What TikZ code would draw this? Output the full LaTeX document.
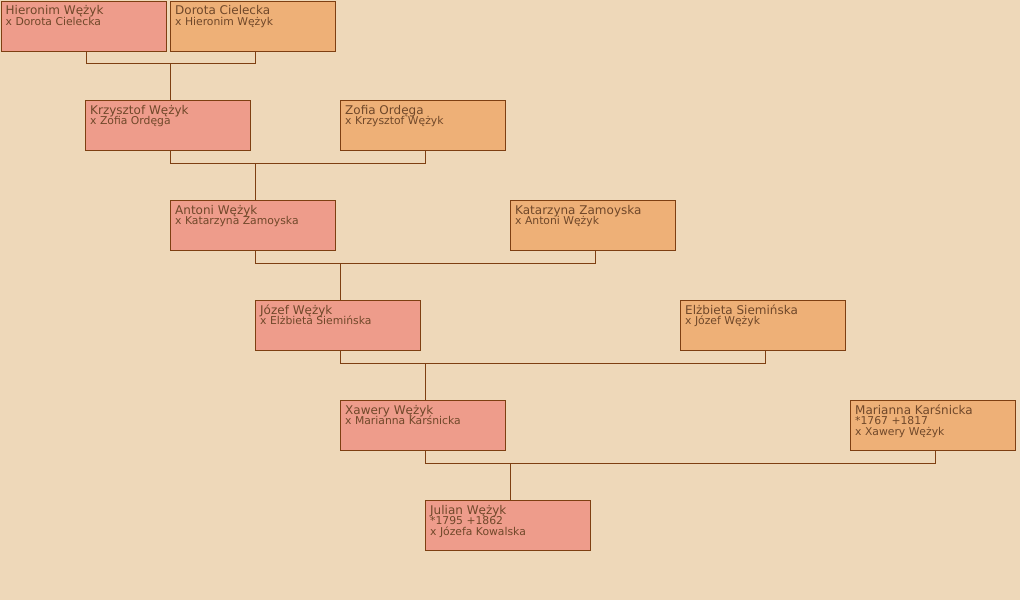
\documentclass[tikz,border=0pt]{standalone}
\usepackage{fontspec}
\setmainfont{DejaVu Sans}
\definecolor{bg}{HTML}{EED8B9}
\definecolor{male}{HTML}{EE9C8B}
\definecolor{female}{HTML}{EEB077}
\definecolor{edge}{HTML}{7E3F12}
\definecolor{txt}{HTML}{70482A}
\newcommand\person[7]{%
  \node[#2] (#1) at (#3,#4) {};
  \node[nm] (#1a) at (#3+5,#4+14) {#5};
  \node[sb] (#1b) at (#3+5,#4+24.5) {#6};
}
\begin{document}
\begin{tikzpicture}[x=1pt,y=-1pt,
  box/.style={draw=edge,line width=1pt,minimum width=165pt,minimum height=50pt,inner sep=0pt,anchor=north west},
  m/.style={box,fill=male},
  f/.style={box,fill=female},
  nm/.style={anchor=base west,inner sep=0pt,text=txt,font=\fontsize{12}{12}\selectfont},
  sb/.style={anchor=base west,inner sep=0pt,text=txt,font=\fontsize{10.8}{11}\selectfont},
  conn/.style={draw=edge,line width=1pt}]
\fill[bg] (0,0) rectangle (1020,600);
\useasboundingbox (0,0) rectangle (1020,600);
\person{h}{m}{0.5}{0.5}{Hieronim Wężyk}{x Dorota Cielecka}{}
\person{d}{f}{170}{0.5}{Dorota Cielecka}{x Hieronim Wężyk}{}
\person{k}{m}{85}{100}{Krzysztof Wężyk}{x Zofia Ordęga}{}
\person{z}{f}{340}{100}{Zofia Ordęga}{x Krzysztof Wężyk}{}
\person{a}{m}{170}{200}{Antoni Wężyk}{x Katarzyna Zamoyska}{}
\person{kz}{f}{510}{200}{Katarzyna Zamoyska}{x Antoni Wężyk}{}
\person{j}{m}{255}{300}{Józef Wężyk}{x Elżbieta Siemińska}{}
\person{e}{f}{680}{300}{Elżbieta Siemińska}{x Józef Wężyk}{}
\person{x}{m}{340}{400}{Xawery Wężyk}{x Marianna Karśnicka}{}
\person{mk}{f}{850}{400}{Marianna Karśnicka}{*1767 +1817}{}
\node[sb] (mkc) at (855,435) {x Xawery Wężyk};
\person{ju}{m}{425}{500}{Julian Wężyk}{*1795 +1862}{}
\node[sb] (juc) at (430,535) {x Józefa Kowalska};
% connectors
\foreach \p/\q/\c in {h/d/k, k/z/a, a/kz/j, j/e/x, x/mk/ju}{
  \coordinate (ps) at ([xshift=2.5pt]\p.south);
  \coordinate (pb) at ([xshift=2.5pt,yshift=-12pt]\p.south);
  \coordinate (qs) at ([xshift=2.5pt]\q.south);
  \coordinate (cn) at ([xshift=2.5pt]\c.north);
  \draw[conn] (ps) -- (pb) -| (qs);
  \draw[conn] (cn) -- (cn |- pb);
}
\end{tikzpicture}
\end{document}
